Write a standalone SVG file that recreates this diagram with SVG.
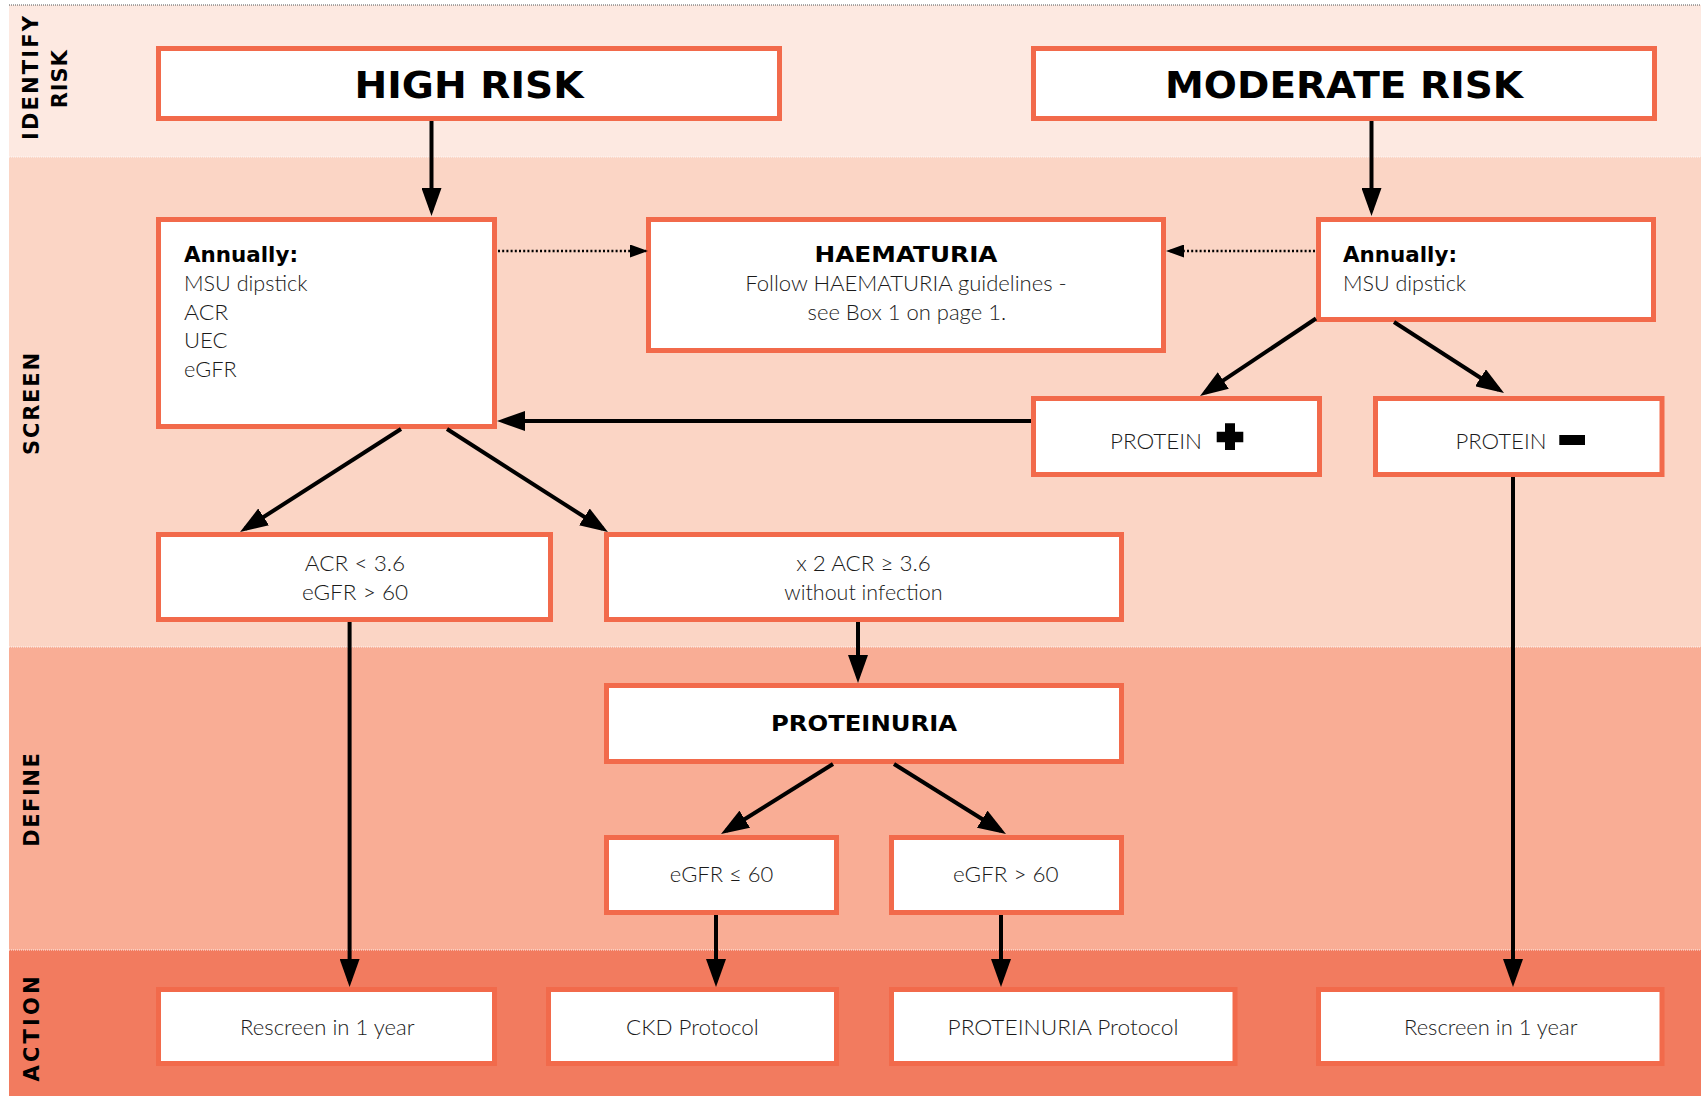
<svg xmlns="http://www.w3.org/2000/svg" width="1701" height="1096" viewBox="0 0 1701 1096">
<style>
.bg{fill:#ffffff}
.b1{fill:#FDE9E1}
.b2{fill:#FBD5C5}
.b3{fill:#F9AD95}
.b4{fill:#F27B5F}
.sep{stroke:#ffffff;stroke-width:1;stroke-dasharray:1 1;opacity:0.9}
.box{fill:#ffffff;stroke:#F26A4B;stroke-width:5}
.t{font-family:Lato,"Liberation Sans",Arial,sans-serif;font-weight:300;font-size:21.5px;fill:#1a1a1a}
.tb{font-family:"DejaVu Sans","Liberation Sans",Arial,sans-serif;font-weight:bold;fill:#000000}
.lane{font-family:"DejaVu Sans","Liberation Sans",Arial,sans-serif;font-weight:bold;font-size:21px;fill:#000000}
.m{text-anchor:middle}
.c{stroke:#000000;stroke-width:4;fill:none}
.d{stroke:#000000;stroke-width:2.5;stroke-dasharray:2 2.2;fill:none}
.sym{fill:#000000}
</style>
<defs>
<marker id="ah" markerUnits="userSpaceOnUse" markerWidth="28" markerHeight="20" refX="22" refY="10" orient="auto">
<path d="M0,0 L28,10 L0,20 z" fill="#000000"/>
</marker>
<marker id="ahs" markerUnits="userSpaceOnUse" markerWidth="18" markerHeight="13" refX="16" refY="6.5" orient="auto">
<path d="M0,0 L18,6.5 L0,13 z" fill="#000000"/>
</marker>
</defs>

<g id="background">
<rect class="bg" x="0" y="0" width="1701" height="1096"/>
<rect class="b1" x="9" y="5" width="1692" height="152"/>
<rect class="b2" x="9" y="157" width="1692" height="490"/>
<rect class="b3" x="9" y="647" width="1692" height="303"/>
<rect class="b4" x="9" y="950" width="1692" height="146"/>
<line x1="9" y1="5" x2="1701" y2="5" stroke="#555555" stroke-width="1" stroke-dasharray="1 1"/>
<line class="sep" x1="9" y1="157" x2="1701" y2="157"/>
<line class="sep" x1="9" y1="647" x2="1701" y2="647"/>
<line class="sep" x1="9" y1="950" x2="1701" y2="950"/>
</g>

<g id="lanes">
<text class="lane m" transform="translate(38.3,78) rotate(-90)" textLength="124" lengthAdjust="spacing">IDENTIFY</text>
<text class="lane m" transform="translate(66.7,79.2) rotate(-90)" textLength="58" lengthAdjust="spacing">RISK</text>
<text class="lane m" transform="translate(38.5,404) rotate(-90)" textLength="102" lengthAdjust="spacing">SCREEN</text>
<text class="lane m" transform="translate(38.5,800) rotate(-90)" textLength="93.5" lengthAdjust="spacing">DEFINE</text>
<text class="lane m" transform="translate(38.5,1029) rotate(-90)" textLength="105" lengthAdjust="spacing">ACTION</text>
</g>

<g id="node-high-risk">
<rect class="box" x="158.5" y="48.5" width="621" height="70"/>
<text class="tb m" x="469" y="98.3" font-size="38" textLength="229" lengthAdjust="spacingAndGlyphs">HIGH RISK</text>
</g>
<g id="node-moderate-risk">
<rect class="box" x="1033.5" y="48.5" width="621" height="70"/>
<text class="tb m" x="1344" y="98.3" font-size="38" textLength="358" lengthAdjust="spacingAndGlyphs">MODERATE RISK</text>
</g>
<g id="node-annual-high">
<rect class="box" x="158.5" y="219.5" width="336" height="207"/>
<text class="tb" x="184" y="262" font-size="21.5" textLength="114" lengthAdjust="spacingAndGlyphs">Annually:</text>
<text class="t" x="184" y="291" textLength="123.4" lengthAdjust="spacingAndGlyphs">MSU dipstick</text>
<text class="t" x="184" y="319.5" textLength="44.4" lengthAdjust="spacingAndGlyphs">ACR</text>
<text class="t" x="184" y="348" textLength="43.4" lengthAdjust="spacingAndGlyphs">UEC</text>
<text class="t" x="184" y="376.5" textLength="52.6" lengthAdjust="spacingAndGlyphs">eGFR</text>
</g>
<g id="node-haematuria">
<rect class="box" x="648.5" y="219.5" width="515" height="131"/>
<text class="tb m" x="906" y="262" font-size="21.5" textLength="183" lengthAdjust="spacingAndGlyphs">HAEMATURIA</text>
<text class="t m" x="906" y="291" textLength="321.5" lengthAdjust="spacingAndGlyphs">Follow HAEMATURIA guidelines -</text>
<text class="t m" x="906.8" y="319.5" textLength="198.5" lengthAdjust="spacingAndGlyphs">see Box 1 on page 1.</text>
</g>
<g id="node-annual-moderate">
<rect class="box" x="1318.5" y="219.5" width="335" height="100"/>
<text class="tb" x="1343" y="262" font-size="21.5" textLength="114" lengthAdjust="spacingAndGlyphs">Annually:</text>
<text class="t" x="1343" y="291" textLength="123" lengthAdjust="spacingAndGlyphs">MSU dipstick</text>
</g>
<g id="node-protein-positive">
<rect class="box" x="1033.5" y="398.5" width="286" height="76"/>
<text class="t" x="1110" y="449" textLength="92" lengthAdjust="spacingAndGlyphs">PROTEIN</text>
<path class="sym" d="M1225,423.3 H1235 V431.7 H1243.3 V442.3 H1235 V450 H1225 V442.3 H1216.7 V431.7 H1225 Z"/>
</g>
<g id="node-protein-negative">
<rect class="box" x="1375.5" y="398.5" width="286.5" height="76"/>
<text class="t" x="1455.4" y="449" textLength="91" lengthAdjust="spacingAndGlyphs">PROTEIN</text>
<rect class="sym" x="1559.3" y="435" width="25.7" height="10"/>
</g>
<g id="node-acr-low">
<rect class="box" x="158.5" y="534.5" width="392" height="85"/>
<text class="t m" x="355" y="570.7" textLength="100.3" lengthAdjust="spacingAndGlyphs">ACR &lt; 3.6</text>
<text class="t m" x="355" y="600" textLength="106.2" lengthAdjust="spacingAndGlyphs">eGFR &gt; 60</text>
</g>
<g id="node-acr-high">
<rect class="box" x="606.5" y="534.5" width="515" height="85"/>
<text class="t m" x="863.5" y="570.7" textLength="134.6" lengthAdjust="spacingAndGlyphs">x 2 ACR ≥ 3.6</text>
<text class="t m" x="863.4" y="600" textLength="158.2" lengthAdjust="spacingAndGlyphs">without infection</text>
</g>
<g id="node-proteinuria">
<rect class="box" x="606.5" y="685.5" width="515" height="76"/>
<text class="tb m" x="864" y="731" font-size="20.5" textLength="186" lengthAdjust="spacingAndGlyphs">PROTEINURIA</text>
</g>
<g id="node-egfr-le60">
<rect class="box" x="606.5" y="837.5" width="230" height="75"/>
<text class="t m" x="721.6" y="882" textLength="103.5" lengthAdjust="spacingAndGlyphs">eGFR ≤ 60</text>
</g>
<g id="node-egfr-gt60">
<rect class="box" x="891.5" y="837.5" width="230" height="75"/>
<text class="t m" x="1005.8" y="882" textLength="105.7" lengthAdjust="spacingAndGlyphs">eGFR &gt; 60</text>
</g>
<g id="node-rescreen-left">
<rect class="box" x="158.5" y="989.5" width="336" height="74"/>
<text class="t m" x="327.3" y="1035" textLength="174.5" lengthAdjust="spacingAndGlyphs">Rescreen in 1 year</text>
</g>
<g id="node-ckd-protocol">
<rect class="box" x="548.5" y="989.5" width="288" height="74"/>
<text class="t m" x="692.4" y="1035" textLength="132.8" lengthAdjust="spacingAndGlyphs">CKD Protocol</text>
</g>
<g id="node-proteinuria-protocol">
<rect class="box" x="891.5" y="989.5" width="343.5" height="74"/>
<text class="t m" x="1063" y="1035" textLength="230.9" lengthAdjust="spacingAndGlyphs">PROTEINURIA Protocol</text>
</g>
<g id="node-rescreen-right">
<rect class="box" x="1318.5" y="989.5" width="343.5" height="74"/>
<text class="t m" x="1490.7" y="1035" textLength="173.4" lengthAdjust="spacingAndGlyphs">Rescreen in 1 year</text>
</g>

<g id="connectors">
<line class="c" x1="431.5" y1="121" x2="431.5" y2="210" marker-end="url(#ah)"/>
<line class="c" x1="1371.5" y1="121" x2="1371.5" y2="210" marker-end="url(#ah)"/>
<line class="d" x1="498" y1="251" x2="646" y2="251" marker-end="url(#ahs)"/>
<line class="d" x1="1315" y1="251" x2="1168" y2="251" marker-end="url(#ahs)"/>
<line class="c" x1="1316" y1="318.5" x2="1205" y2="392.7" marker-end="url(#ah)"/>
<line class="c" x1="1394" y1="322" x2="1499" y2="389.7" marker-end="url(#ah)"/>
<line class="c" x1="1031" y1="421" x2="503" y2="421" marker-end="url(#ah)"/>
<line class="c" x1="1513" y1="477" x2="1513" y2="981" marker-end="url(#ah)"/>
<line class="c" x1="401" y1="429" x2="245.1" y2="528.8" marker-end="url(#ah)"/>
<line class="c" x1="447" y1="429" x2="602.9" y2="528.8" marker-end="url(#ah)"/>
<line class="c" x1="349.6" y1="622" x2="349.6" y2="981" marker-end="url(#ah)"/>
<line class="c" x1="858" y1="622" x2="858" y2="677" marker-end="url(#ah)"/>
<line class="c" x1="833" y1="764" x2="726.1" y2="830.8" marker-end="url(#ah)"/>
<line class="c" x1="894" y1="764" x2="1000.9" y2="830.8" marker-end="url(#ah)"/>
<line class="c" x1="716" y1="915" x2="716" y2="981" marker-end="url(#ah)"/>
<line class="c" x1="1001" y1="915" x2="1001" y2="981" marker-end="url(#ah)"/>
</g>
</svg>
